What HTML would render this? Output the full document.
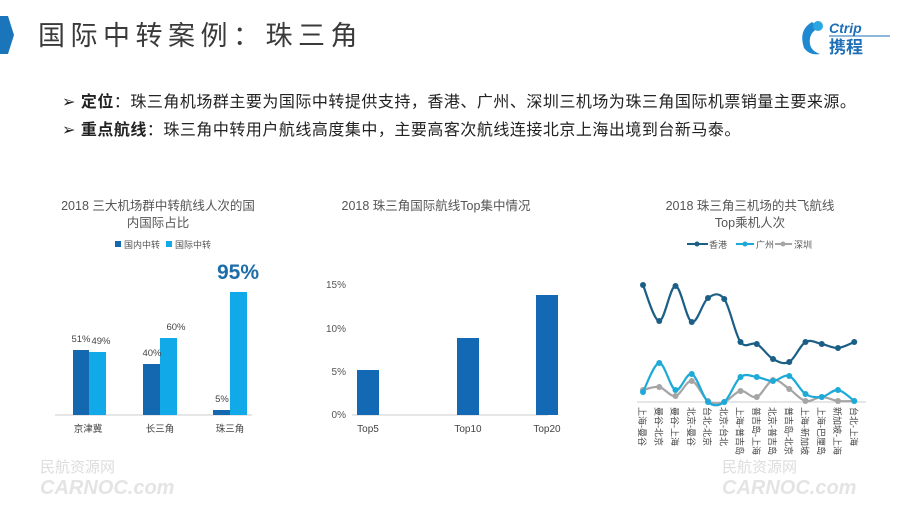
<!DOCTYPE html>
<html><head><meta charset="utf-8"><style>
body{margin:0;background:#fff;width:920px;height:516px;overflow:hidden;font-family:"Liberation Sans","Noto Sans CJK SC",sans-serif;}
svg text{font-family:"Liberation Sans","Noto Sans CJK SC",sans-serif;}
</style></head><body>
<svg width="920" height="516" viewBox="0 0 920 516" xmlns="http://www.w3.org/2000/svg">
<rect width="920" height="516" fill="#fff"/>
<polygon points="0,16 8,16 14,35 8,54 0,54" fill="#1b75bb"/>
<text x="38" y="45" font-size="27" fill="#3a3a3a" letter-spacing="5.5">国际中转案例：珠三角</text>
<path d="M812,22 q-14,8 -8,26 q6,8 16,6 q-12,-4 -10,-16 q2,-8 10,-10 z" fill="#1e88d0"/>
<circle cx="818" cy="26" r="5" fill="#2aa7e0"/>
<text x="829" y="33" font-size="14" font-style="italic" fill="#1e6fb8" font-weight="bold">Ctrip</text>
<line x1="829" y1="36" x2="890" y2="36" stroke="#1e6fb8" stroke-width="1"/>
<text x="829" y="53" font-size="17" font-weight="bold" fill="#1e6fb8">携程</text>
<text x="62" y="107" font-size="16" fill="#222" letter-spacing="0.5">➢ <tspan font-weight="bold">定位</tspan>：珠三角机场群主要为国际中转提供支持，香港、广州、深圳三机场为珠三角国际机票销量主要来源。</text>
<text x="62" y="135" font-size="16" fill="#222" letter-spacing="0.5">➢ <tspan font-weight="bold">重点航线</tspan>：珠三角中转用户航线高度集中，主要高客次航线连接北京上海出境到台新马泰。</text>

<text x="158" y="210" font-size="12.5" fill="#555" text-anchor="middle">2018 三大机场群中转航线人次的国</text>
<text x="158" y="227" font-size="12.5" fill="#555" text-anchor="middle">内国际占比</text>
<rect x="115" y="241" width="6" height="6" fill="#1468b0"/><text x="124" y="248" font-size="9" fill="#555">国内中转</text>
<rect x="166" y="241" width="6" height="6" fill="#12a9e8"/><text x="175" y="248" font-size="9" fill="#555">国际中转</text>
<line x1="55" y1="415" x2="252" y2="415" stroke="#ccc"/>
<rect x="73" y="350" width="16" height="65" fill="#1468b0"/><rect x="89" y="352" width="17" height="63" fill="#12a9e8"/>
<rect x="143" y="364" width="17" height="51" fill="#1468b0"/><rect x="160" y="338" width="17" height="77" fill="#12a9e8"/>
<rect x="213" y="410" width="17" height="5" fill="#1468b0"/><rect x="230" y="292" width="17" height="123" fill="#12a9e8"/>
<g font-size="9.5" fill="#444" text-anchor="middle">
<text x="81" y="342">51%</text><text x="101" y="344">49%</text>
<text x="152" y="356">40%</text><text x="176" y="330">60%</text>
<text x="222" y="402">5%</text>
<text x="88" y="432">京津冀</text><text x="160" y="432">长三角</text><text x="230" y="432">珠三角</text>
</g>
<text x="238" y="279" font-size="21" font-weight="bold" fill="#1d6ea8" text-anchor="middle">95%</text>

<text x="436" y="210" font-size="12.5" fill="#555" text-anchor="middle">2018 珠三角国际航线Top集中情况</text>
<line x1="352" y1="415" x2="548" y2="415" stroke="#ccc"/>
<g font-size="10" fill="#555" text-anchor="end">
<text x="346" y="288">15%</text><text x="346" y="332">10%</text><text x="346" y="375">5%</text><text x="346" y="418">0%</text>
</g>
<rect x="357" y="370" width="22" height="45" fill="#1469b4"/>
<rect x="457" y="338" width="22" height="77" fill="#1469b4"/>
<rect x="536" y="295" width="22" height="120" fill="#1469b4"/>
<g font-size="10" fill="#444" text-anchor="middle">
<text x="368" y="432">Top5</text><text x="468" y="432">Top10</text><text x="547" y="432">Top20</text>
</g>

<text x="750" y="210" font-size="12.5" fill="#555" text-anchor="middle">2018 珠三角三机场的共飞航线</text>
<text x="750" y="227" font-size="12.5" fill="#555" text-anchor="middle">Top乘机人次</text>
<line x1="687" y1="244" x2="708" y2="244" stroke="#1b5e86" stroke-width="2"/><circle cx="697" cy="244" r="2.5" fill="#1b5e86"/><text x="709" y="248" font-size="9" fill="#555">香港</text>
<line x1="736" y1="244" x2="754" y2="244" stroke="#1eaad8" stroke-width="2"/><circle cx="745" cy="244" r="2.5" fill="#1eaad8"/><text x="756" y="248" font-size="9" fill="#555">广州</text>
<line x1="775" y1="244" x2="792" y2="244" stroke="#a5a5a5" stroke-width="2"/><circle cx="783" cy="244" r="2.5" fill="#a5a5a5"/><text x="794" y="248" font-size="9" fill="#555">深圳</text>
<line x1="637" y1="402" x2="866" y2="402" stroke="#ccc"/>
<g id="series"></g>
<g font-size="9" fill="#444" id="xl"></g>
<text x="40" y="472" font-size="15" fill="#ddd">民航资源网</text>
<text x="40" y="494" font-size="20" font-weight="bold" fill="#e4e4e4" font-style="italic">CARNOC.com</text>
<text x="722" y="472" font-size="15" fill="#ddd">民航资源网</text>
<text x="722" y="494" font-size="20" font-weight="bold" fill="#e4e4e4" font-style="italic">CARNOC.com</text>
</svg>
<script>
var xs=[],i;for(i=0;i<14;i++)xs.push(643+i*16.25);
var S=[["#1b5e86",[285,321,286,322,298,299,342,344,359,362,342,344,348,342]],
["#1eaad8",[392,363,390,374,402,402,377,377,381,376,394,397,390,401]],
["#a5a5a5",[390,387,396,381,401,402,391,397,380,389,401,397,401,401]]];
var g=document.getElementById('series'),h='';
[2,1,0].forEach(function(k){var c=S[k][0],y=S[k][1];var d='M'+xs[0]+','+y[0];
for(i=0;i<13;i++){var p0=i?i-1:i,p3=i+2<14?i+2:i+1;
var c1x=xs[i]+(xs[i+1]-xs[p0])/6,c1y=y[i]+(y[i+1]-y[p0])/6,c2x=xs[i+1]-(xs[p3]-xs[i])/6,c2y=y[i+1]-(y[p3]-y[i])/6;
d+=' C'+c1x+','+c1y+' '+c2x+','+c2y+' '+xs[i+1]+','+y[i+1];}
h+='<path d="'+d+'" fill="none" stroke="'+c+'" stroke-width="2.2"/>';
for(i=0;i<14;i++)h+='<circle cx="'+xs[i]+'" cy="'+y[i]+'" r="3" fill="'+c+'"/>';});
g.innerHTML=h;
var L=["上海-曼谷","曼谷-北京","曼谷-上海","北京-曼谷","台北-北京","北京-台北","上海-普吉岛","普吉岛-上海","北京-普吉岛","普吉岛-北京","上海-新加坡","上海-巴厘岛","新加坡-上海","台北-上海"];
var t='';for(i=0;i<14;i++)t+='<text transform="translate('+(xs[i]-4)+',407) rotate(90)" >'+L[i]+'</text>';
document.getElementById('xl').innerHTML=t;
</script>
</body></html>
